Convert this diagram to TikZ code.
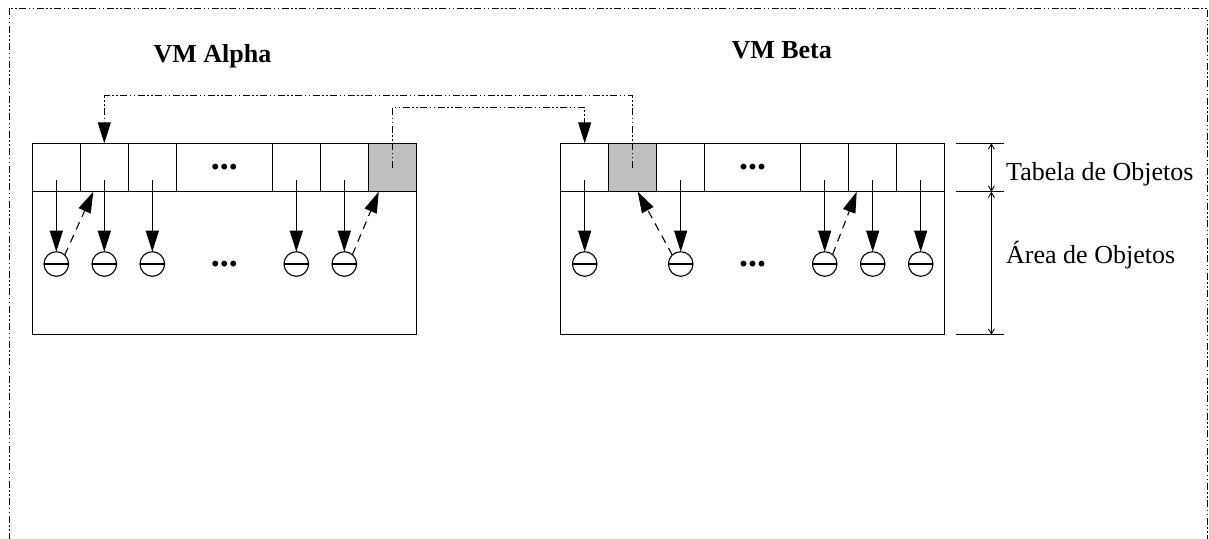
\documentclass[tikz,border=0pt]{standalone}
\usepackage{fontspec}
\setmainfont{Liberation Serif}
\usetikzlibrary{positioning,arrows.meta}
\definecolor{cellgray}{gray}{0.75}
\begin{document}
\begin{tikzpicture}[x=1pt,y=-1pt,node distance=60pt and 0pt,
    cell/.style={draw,line width=1.2pt,minimum width=48pt,minimum height=48.4pt,inner sep=0pt,outer sep=0pt},
    wide/.style={cell,minimum width=96pt},
    obj/.style={draw,circle,line width=1.1pt,minimum size=24.6pt,inner sep=0pt,outer sep=0pt},
    ptr/.style={line width=1.1pt,-{Triangle[length=21pt,width=13pt]}},
    back/.style={ptr,dash pattern=on 8pt off 6pt},
    link/.style={ptr,line width=1pt,dash pattern=on 7pt off 2.5pt on 1.5pt off 2.5pt on 1.5pt off 2.5pt},
    dim/.style={line width=0.9pt,{Straight Barb[length=5pt,width=6pt]}-{Straight Barb[length=5pt,width=6pt]}},
    dotsfont/.style={font=\fontsize{36}{40}\selectfont\bfseries},
    txt/.style={font=\fontsize{26}{30}\selectfont,inner sep=0pt,anchor=base west},
    title/.style={font=\fontsize{26}{30}\selectfont\bfseries,inner sep=0pt,anchor=base}]
  \useasboundingbox (0,0) rectangle (1209,538);
  \draw[line width=1pt,dash pattern=on 7pt off 2.5pt on 1.5pt off 2.5pt on 1.5pt off 2.5pt] (9.3,8.3) rectangle (1207.3,560);
  \node[title] (alpha) at (212.5,62) {VM Alpha};
  \node[title] (beta) at (781.7,58) {VM Beta};
  % VM Alpha
  \node[cell,anchor=north west] (a1) at (32.3,143.3) {};
  \node[cell,right=of a1] (a2) {};  \node[cell,right=of a2] (a3) {};
  \node[wide,right=of a3,dotsfont] (a4) {...};
  \node[cell,right=of a4] (a5) {};  \node[cell,right=of a5] (a6) {};
  \node[cell,fill=cellgray,right=of a6] (a7) {};
  \draw[line width=1.2pt] (a1.south west) rectangle ([yshift=-143pt]a7.south east);
  \node[obj,below=of a1] (oa1) {};  \node[obj,below=of a2] (oa2) {};  \node[obj,below=of a3] (oa3) {};
  \node[dotsfont] (da) at (a4 |- oa1) {...};
  \node[obj,below=of a5] (oa5) {};  \node[obj,below=of a6] (oa6) {};
  % VM Beta
  \node[cell,anchor=north west] (b1) at (560.7,143.3) {};
  \node[cell,fill=cellgray,right=of b1] (b2) {};  \node[cell,right=of b2] (b3) {};
  \node[wide,right=of b3,dotsfont] (b4) {...};
  \node[cell,right=of b4] (b5) {};  \node[cell,right=of b5] (b6) {};
  \node[cell,right=of b6] (b7) {};
  \draw[line width=1.2pt] (b1.south west) rectangle ([yshift=-143pt]b7.south east);
  \node[obj,below=of b1] (ob1) {};  \node[obj,below=of b3] (ob3) {};
  \node[dotsfont] (db) at (b4 |- ob1) {...};
  \node[obj,below=of b5] (ob5) {};  \node[obj,below=of b6] (ob6) {};  \node[obj,below=of b7] (ob7) {};
  \foreach \o in {oa1,oa2,oa3,oa5,oa6,ob1,ob3,ob5,ob6,ob7}
    \draw[line width=1.1pt] (\o.west) -- (\o.east);
  % pointers
  \foreach \c/\o in {a1/oa1,a2/oa2,a3/oa3,a5/oa5,a6/oa6,b1/ob1,b3/ob3,b5/ob5,b6/ob6,b7/ob7}
    \draw[ptr] ([yshift=-12pt]\c.center) -- (\o.north);
  \draw[back] (oa1.47) -- ([xshift=13pt]a2.south west);
  \draw[back] (oa6.49) -- ([xshift=10.5pt]a7.south west);
  \draw[back] (ob3.133) -- ([xshift=29pt]b2.south west);
  \draw[back] (ob5.50) -- ([xshift=8pt]b6.south west);
  % links between the VMs
  \draw[link] (b2.center) |- ([yshift=47.6pt]a2.north) -- (a2.north);
  \draw[link] (a7.center) |- ([yshift=35.6pt]b1.north) -- (b1.north);
  % dimensions
  \coordinate (d1) at ([xshift=46.7pt]b7.north east);
  \coordinate (d2) at ([xshift=46.7pt]b7.south east);
  \coordinate (d3) at ([xshift=46.7pt,yshift=-143pt]b7.south east);
  \foreach \d in {d1,d2,d3}
    \draw[line width=0.9pt] ([xshift=-35pt]\d) -- ([xshift=12.3pt]\d);
  \draw[dim] (d1) -- (d2);
  \draw[dim] (d2) -- (d3);
  \node[txt] (tab) at (1006,180) {Tabela de Objetos};
  \node[txt] (area) at (1006,263.3) {Área de Objetos};
\end{tikzpicture}
\end{document}
